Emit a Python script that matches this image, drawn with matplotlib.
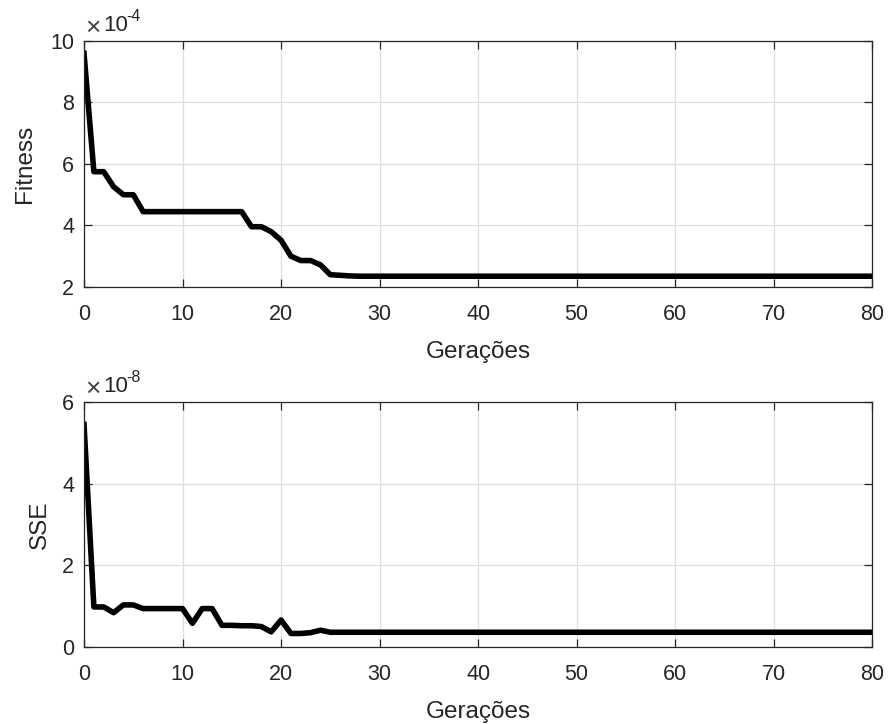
import matplotlib
matplotlib.use("Agg")
import matplotlib.pyplot as plt

plt.rcParams['font.family'] = ['Liberation Sans', 'DejaVu Sans']

generations = list(range(0, 81))

fitness_head = [9.6, 5.75, 5.75, 5.26, 5.0, 5.0, 4.45, 4.45, 4.45, 4.45,
                4.45, 4.45, 4.45, 4.45, 4.45, 4.45, 4.45, 3.96, 3.96, 3.80,
                3.52, 3.0, 2.86, 2.86, 2.72, 2.40, 2.38, 2.36, 2.35]
fitness_tail_value = 2.35
fitness = fitness_head + [fitness_tail_value] * (81 - len(fitness_head))

sse_head = [5.45, 0.98, 0.98, 0.84, 1.03, 1.03, 0.94, 0.94, 0.94, 0.94,
            0.94, 0.58, 0.94, 0.94, 0.53, 0.53, 0.52, 0.52, 0.50, 0.37,
            0.66, 0.33, 0.33, 0.35, 0.41, 0.36, 0.36]
sse_tail_value = 0.36
sse = sse_head + [sse_tail_value] * (81 - len(sse_head))

x_ticks = [0, 10, 20, 30, 40, 50, 60, 70, 80]
fit_ticks = [2, 4, 6, 8, 10]
sse_ticks = [0, 2, 4, 6]
xlabel = "Gerações"

fig = plt.figure(figsize=(8.9, 7.24), dpi=100)
ax1 = fig.add_axes([0.0944, 0.6036, 0.8856, 0.3398])
ax2 = fig.add_axes([0.0944, 0.1064, 0.8856, 0.3384])

tc = '#262626'
fs_tick = 15.5
fs_label = 17.5


def style(ax):
    ax.grid(True, color='#dedede', linewidth=0.9)
    ax.set_axisbelow(True)
    for s in ax.spines.values():
        s.set_color(tc)
        s.set_linewidth(0.9)
    ax.tick_params(direction='in', length=6, width=0.9, colors=tc,
                   labelsize=fs_tick, top=True, right=True,
                   labeltop=False, labelright=False)
    ax.tick_params(axis='x', pad=12)
    ax.tick_params(axis='y', pad=7)
    ax.set_xticks(x_ticks)
    ax.set_xlim(0, 80)
    ax.set_xlabel(xlabel, fontsize=fs_label, color=tc, labelpad=11.5)


def exponent(ax, exp_text):
    ax.annotate("×", xy=(0, 1), xycoords='axes fraction',
                xytext=(0.7, 4.3), textcoords='offset points',
                fontsize=19, color='#404040', ha='left', va='baseline')
    ax.annotate("10", xy=(0, 1), xycoords='axes fraction',
                xytext=(14.1, 7), textcoords='offset points',
                fontsize=fs_tick + 0.5, color=tc, ha='left', va='baseline')
    ax.annotate(exp_text, xy=(0, 1), xycoords='axes fraction',
                xytext=(30.5, 14.2), textcoords='offset points',
                fontsize=11.5, color=tc, ha='left', va='baseline')


ax1.plot(generations, fitness, color='black', linewidth=4.0)
style(ax1)
ax1.set_ylim(2, 10)
ax1.set_yticks(fit_ticks)
ax1.set_ylabel("Fitness", fontsize=fs_label, color=tc, labelpad=10)
exponent(ax1, "-4")

ax2.plot(generations, sse, color='black', linewidth=4.0)
style(ax2)
ax2.set_ylim(0, 6)
ax2.set_yticks(sse_ticks)
ax2.set_ylabel("SSE", fontsize=fs_label, color=tc, labelpad=8)
exponent(ax2, "-8")

fig.savefig("out.png", dpi=100)
